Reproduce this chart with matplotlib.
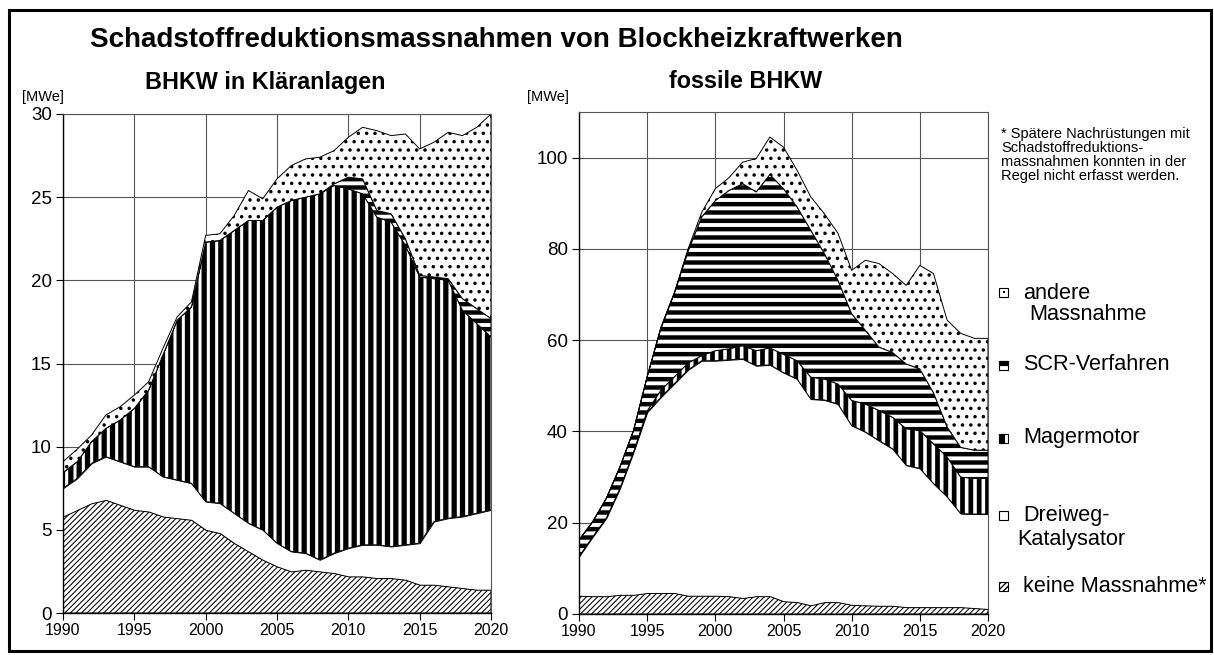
import matplotlib
matplotlib.use("Agg")
import matplotlib.pyplot as plt
from matplotlib.patches import Rectangle

plt.rcParams['font.family'] = ['Liberation Sans', 'DejaVu Sans']

years = list(range(1990, 2021))

# ---- BHKW in Kläranlagen (MWe), layer values ----
kl_keine = [5.8, 6.2, 6.6, 6.8, 6.5, 6.2, 6.1, 5.8, 5.7, 5.6, 5.0, 4.8, 4.2, 3.7, 3.2, 2.8,
            2.5, 2.6, 2.5, 2.4, 2.2, 2.2, 2.1, 2.1, 2.0, 1.7, 1.7, 1.6, 1.5, 1.4, 1.4]
kl_dreiweg = [1.7, 1.9, 2.4, 2.6, 2.6, 2.6, 2.7, 2.4, 2.3, 2.2, 1.7, 1.8, 1.8, 1.7, 1.8, 1.4,
              1.2, 1.0, 0.7, 1.2, 1.7, 1.9, 2.0, 1.9, 2.1, 2.5, 3.8, 4.1, 4.3, 4.6, 4.8]
kl_mager = [0.95, 1.0, 1.3, 1.7, 2.5, 3.5, 4.6, 7.3, 9.6, 10.6, 15.6, 15.8, 17.0, 18.2, 18.6, 20.2,
            21.1, 21.4, 22.0, 22.1, 21.6, 21.1, 19.7, 19.5, 18.0, 16.0, 14.6, 14.3, 12.4, 11.4, 10.4]
kl_scr = [0, 0, 0, 0, 0, 0, 0, 0, 0, 0, 0, 0, 0, 0, 0, 0,
          0, 0, 0, 0.1, 0.7, 0.9, 0.4, 0.5, 0.4, 0.1, 0.1, 0.1, 0.7, 0.9, 1.1]
kl_andere = [0.65, 0.75, 0.4, 0.8, 0.8, 0.8, 0.5, 0.4, 0.2, 0.3, 0.4, 0.4, 0.9, 1.8, 1.3, 1.7,
             2.1, 2.3, 2.2, 2.0, 2.4, 3.1, 4.8, 4.7, 6.3, 7.6, 8.1, 8.8, 9.8, 10.9, 12.3]

# ---- fossile BHKW (MWe), layer values ----
fo_keine = [4.0, 3.9, 3.9, 4.2, 4.2, 4.6, 4.6, 4.6, 4.0, 4.0, 4.0, 3.9, 3.5, 3.9, 3.9, 2.8,
            2.6, 1.9, 2.6, 2.6, 2.0, 1.9, 1.8, 1.8, 1.5, 1.5, 1.5, 1.5, 1.5, 1.3, 1.1]
fo_dreiweg = [8.6, 13.0, 17.1, 23.3, 31.3, 39.6, 42.9, 45.9, 49.5, 51.5, 51.5, 51.8, 52.4, 50.5, 50.7, 50.1,
              48.9, 45.2, 44.3, 43.4, 39.3, 38.0, 36.2, 34.4, 31.1, 30.4, 27.1, 24.2, 20.5, 20.6, 20.8]
fo_mager = [0, 0, 0, 0, 0, 0.3, 1.5, 1.5, 1.5, 1.1, 2.2, 2.4, 2.9, 3.3, 3.7, 4.0,
            4.0, 4.8, 4.6, 4.4, 5.5, 6.1, 6.6, 6.9, 8.0, 8.3, 8.7, 8.7, 8.0, 7.8, 7.8]
fo_scr = [3.6, 3.3, 4.3, 4.7, 4.7, 7.5, 13.5, 18.3, 24.5, 30.4, 32.9, 34.7, 35.5, 34.8, 38.0, 36.3,
          33.7, 32.2, 27.5, 22.7, 19.0, 16.2, 13.9, 14.2, 14.2, 13.5, 11.2, 6.6, 6.5, 6.2, 6.2]
fo_andere = [0, 0, 0, 0, 0, 0, 0.3, 0.2, 0.5, 1.0, 2.6, 2.8, 4.7, 7.3, 8.2, 9.1,
             8.0, 7.3, 8.7, 10.3, 9.5, 15.3, 18.3, 17.3, 17.2, 22.7, 26.1, 23.4, 25.0, 24.5, 24.5]

left_yticks = [0, 5, 10, 15, 20, 25, 30]
right_yticks = [0, 20, 40, 60, 80, 100]
xticks = [1990, 1995, 2000, 2005, 2010, 2015, 2020]

W, H = 1214, 655
fig = plt.figure(figsize=(W / 100, H / 100), dpi=100)


def fpos(x, y):
    return x / W, 1 - y / H


def style_axes(ax, ylim, yticks):
    ax.set_xlim(1990, 2020)
    ax.set_ylim(*ylim)
    ax.set_xticks(xticks)
    ax.set_yticks(yticks)
    ax.set_axisbelow(True)
    ax.grid(True, color='#555555', linewidth=0.8)
    for s in ['top', 'right']:
        ax.spines[s].set_color('#555555')
        ax.spines[s].set_linewidth(0.8)
    for s in ['left', 'bottom']:
        ax.spines[s].set_color('black')
        ax.spines[s].set_linewidth(1.0)
    ax.tick_params(axis='y', direction='out', length=5, width=0.8, labelsize=13.5, pad=3)
    ax.tick_params(axis='x', direction='out', length=5, width=0.8, labelsize=11.5, pad=2)


def draw(ax, layers, hatches, hlws):
    polys = ax.stackplot(years, layers, colors=['white'] * len(layers),
                         edgecolor='black', linewidth=0.7)
    for p, h, lw in zip(polys, hatches, hlws):
        if h:
            p.set_hatch(h)
        try:
            p.set_hatch_linewidth(lw)
        except AttributeError:
            pass


ax1 = fig.add_axes([63 / W, 1 - 613 / H, 428 / W, 499 / H])
ax2 = fig.add_axes([579 / W, 1 - 614 / H, 409 / W, 502 / H])

draw(ax1, [kl_keine, kl_dreiweg, kl_mager, kl_scr, kl_andere],
     ['//////', None, '||', '--', '..'], [0.75, 0.6, 3.8, 3.2, 1.3])
draw(ax2, [fo_keine, fo_dreiweg, fo_mager, fo_scr, fo_andere],
     ['//////', None, '||', '--', '..'], [0.75, 0.6, 3.4, 3.2, 1.3])

style_axes(ax1, (0, 30), left_yticks)
style_axes(ax2, (0, 110), right_yticks)

# Texts
fig.text(*fpos(90, 40), "Schadstoffreduktionsmassnahmen von Blockheizkraftwerken",
         fontsize=20, fontweight='bold', ha='left', va='center')
fig.text(*fpos(265, 82), "BHKW in Kläranlagen", fontsize=16.8, fontweight='bold',
         ha='center', va='center')
fig.text(*fpos(746, 82), "fossile BHKW", fontsize=16.8, fontweight='bold',
         ha='center', va='center')
fig.text(*fpos(22, 97), "[MWe]", fontsize=10.5, ha='left', va='center')
fig.text(*fpos(527, 97), "[MWe]", fontsize=10.5, ha='left', va='center')

fig.text(*fpos(1001, 127), "* Spätere Nachrüstungen mit\nSchadstoffreduktions-\n"
         "massnahmen konnten in der\nRegel nicht erfasst werden.",
         fontsize=10.5, ha='left', va='top', linespacing=1.0)

# Legend (manual)
sq = 9
mx = 999
leg_y = [292, 365, 438, 515, 586]


def rect(x, y, w, h, **kw):
    r = Rectangle(fpos(x, y + h), w / W, h / H, transform=fig.transFigure, **kw)
    fig.add_artist(r)
    return r


# andere
yc = leg_y[0]
rect(mx, yc - sq / 2, sq, sq, facecolor='white', edgecolor='black', linewidth=0.8)
rect(mx + 3.5, yc - 1, 2, 2, facecolor='black', edgecolor='none')
# SCR
yc = leg_y[1]
rect(mx, yc - sq / 2, sq, sq, facecolor='white', edgecolor='black', linewidth=0.8)
rect(mx, yc - sq / 2, sq, sq / 2, facecolor='black', edgecolor='black', linewidth=0.8)
# Mager
yc = leg_y[2]
rect(mx, yc - sq / 2, sq, sq, facecolor='white', edgecolor='black', linewidth=0.8)
rect(mx, yc - sq / 2, sq / 2, sq, facecolor='black', edgecolor='black', linewidth=0.8)
# Dreiweg
yc = leg_y[3]
rect(mx, yc - sq / 2, sq, sq, facecolor='white', edgecolor='black', linewidth=0.8)
# keine
yc = leg_y[4]
rect(mx, yc - sq / 2, sq, sq, facecolor='white', edgecolor='black', linewidth=0.8, hatch='//////')

fs = 15.6
fig.text(*fpos(1023, 293), "andere", fontsize=fs, ha='left', va='center')
fig.text(*fpos(1029, 315), "Massnahme", fontsize=fs, ha='left', va='center')
fig.text(*fpos(1023, 365), "SCR-Verfahren", fontsize=fs, ha='left', va='center')
fig.text(*fpos(1023, 438), "Magermotor", fontsize=fs, ha='left', va='center')
fig.text(*fpos(1023, 515), "Dreiweg-", fontsize=fs, ha='left', va='center')
fig.text(*fpos(1017, 539), "Katalysator", fontsize=fs, ha='left', va='center')
fig.text(*fpos(1023, 586), "keine Massnahme*", fontsize=fs, ha='left', va='center')

# Figure border
fig.add_artist(Rectangle(fpos(9, 651), (1211 - 9) / W, (651 - 10) / H, transform=fig.transFigure,
                         facecolor='none', edgecolor='black', linewidth=2.2))

fig.savefig("out.png", dpi=100)
